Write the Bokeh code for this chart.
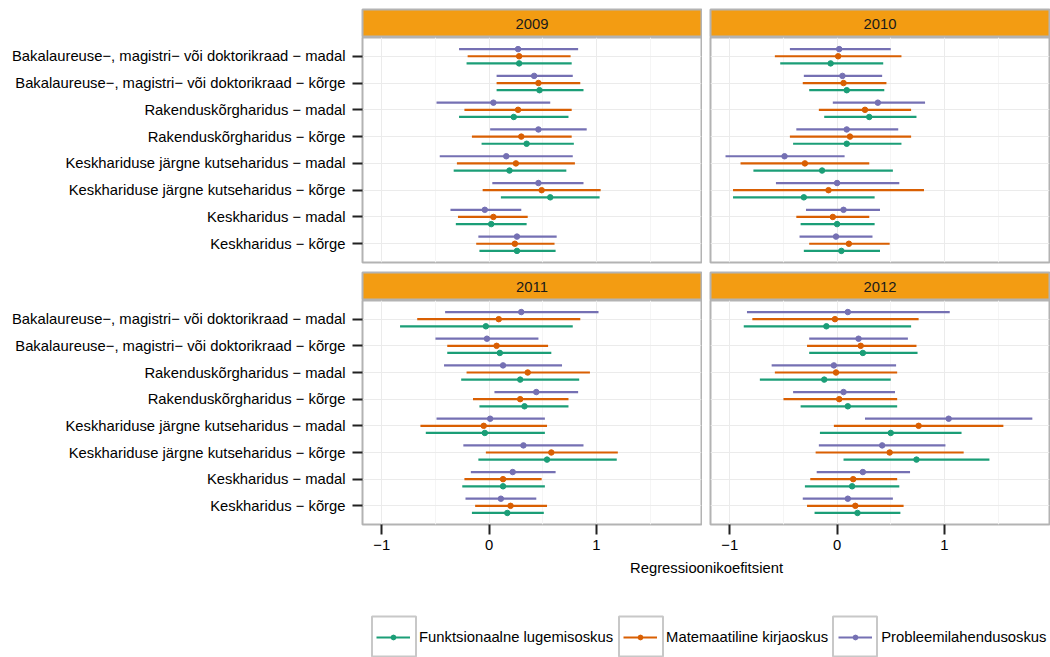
from bokeh.plotting import figure
from bokeh.models import (ColumnDataSource, FactorRange, Range1d, FixedTicker,
                          CategoricalTicker, Label, Legend, LegendItem)
from bokeh.transform import dodge
from bokeh.layouts import column, row
from bokeh.embed import file_html
from bokeh.resources import INLINE
from bokeh.core.validation import silence
from bokeh.core.validation.warnings import MISSING_RENDERERS

silence(MISSING_RENDERERS, True)

M = "\u2212"
# categories, top to bottom as shown
categories = [
    f"Bakalaureuse{M}, magistri{M} või doktorikraad {M} madal",
    f"Bakalaureuse{M}, magistri{M} või doktorikraad {M} kõrge",
    f"Rakenduskõrgharidus {M} madal",
    f"Rakenduskõrgharidus {M} kõrge",
    f"Keskhariduse järgne kutseharidus {M} madal",
    f"Keskhariduse järgne kutseharidus {M} kõrge",
    f"Keskharidus {M} madal",
    f"Keskharidus {M} kõrge",
]
years = ["2009", "2010", "2011", "2012"]
series = ["Funktsionaalne lugemisoskus", "Matemaatiline kirjaoskus", "Probleemilahendusoskus"]
colors = ["#1B9E77", "#D95F02", "#7570B3"]
x_ticks = [-1, 0, 1]
x_tick_labels = [f"{M}1", "0", "1"]
x_title = "Regressioonikoefitsient"

# ---- 2009 ----
fl_2009_est = [0.28, 0.47, 0.23, 0.35, 0.19, 0.57, 0.02, 0.26]
fl_2009_lo = [-0.21, 0.07, -0.28, -0.07, -0.33, 0.11, -0.31, -0.09]
fl_2009_hi = [0.77, 0.88, 0.74, 0.79, 0.72, 1.03, 0.35, 0.62]
mk_2009_est = [0.28, 0.46, 0.27, 0.30, 0.25, 0.49, 0.04, 0.24]
mk_2009_lo = [-0.20, 0.07, -0.23, -0.16, -0.30, -0.06, -0.29, -0.12]
mk_2009_hi = [0.76, 0.85, 0.77, 0.77, 0.80, 1.04, 0.36, 0.61]
pl_2009_est = [0.27, 0.42, 0.04, 0.46, 0.16, 0.46, -0.04, 0.26]
pl_2009_lo = [-0.28, 0.07, -0.49, 0.01, -0.46, 0.03, -0.36, -0.10]
pl_2009_hi = [0.83, 0.78, 0.57, 0.91, 0.78, 0.88, 0.30, 0.63]
# ---- 2010 ----
fl_2010_est = [-0.06, 0.09, 0.30, 0.09, -0.14, -0.31, 0.00, 0.04]
fl_2010_lo = [-0.53, -0.26, -0.12, -0.41, -0.78, -0.97, -0.34, -0.31]
fl_2010_hi = [0.43, 0.44, 0.74, 0.60, 0.52, 0.35, 0.35, 0.40]
mk_2010_est = [0.01, 0.06, 0.26, 0.12, -0.30, -0.08, -0.04, 0.11]
mk_2010_lo = [-0.58, -0.32, -0.17, -0.44, -0.90, -0.97, -0.38, -0.26]
mk_2010_hi = [0.60, 0.46, 0.69, 0.69, 0.30, 0.81, 0.30, 0.49]
pl_2010_est = [0.02, 0.05, 0.38, 0.09, -0.49, 0.00, 0.06, -0.01]
pl_2010_lo = [-0.44, -0.31, -0.04, -0.38, -1.04, -0.57, -0.29, -0.35]
pl_2010_hi = [0.50, 0.42, 0.82, 0.57, 0.07, 0.58, 0.40, 0.33]
# ---- 2011 ----
fl_2011_est = [-0.03, 0.10, 0.29, 0.33, -0.04, 0.54, 0.13, 0.17]
fl_2011_lo = [-0.83, -0.39, -0.26, -0.09, -0.59, -0.10, -0.25, -0.16]
fl_2011_hi = [0.78, 0.58, 0.84, 0.74, 0.52, 1.19, 0.52, 0.51]
mk_2011_est = [0.09, 0.07, 0.36, 0.29, -0.05, 0.58, 0.13, 0.20]
mk_2011_lo = [-0.67, -0.39, -0.21, -0.15, -0.64, -0.03, -0.23, -0.13]
mk_2011_hi = [0.85, 0.55, 0.94, 0.74, 0.54, 1.20, 0.49, 0.54]
pl_2011_est = [0.30, -0.02, 0.13, 0.44, 0.01, 0.32, 0.22, 0.11]
pl_2011_lo = [-0.41, -0.50, -0.42, 0.05, -0.49, -0.24, -0.17, -0.22]
pl_2011_hi = [1.02, 0.46, 0.68, 0.83, 0.52, 0.88, 0.62, 0.44]
# ---- 2012 ----
fl_2012_est = [-0.10, 0.24, -0.12, 0.10, 0.50, 0.74, 0.14, 0.19]
fl_2012_lo = [-0.87, -0.26, -0.72, -0.34, -0.16, 0.06, -0.30, -0.21]
fl_2012_hi = [0.69, 0.75, 0.50, 0.56, 1.16, 1.42, 0.58, 0.59]
mk_2012_est = [-0.02, 0.22, -0.01, 0.02, 0.76, 0.49, 0.15, 0.17]
mk_2012_lo = [-0.79, -0.28, -0.58, -0.50, -0.03, -0.20, -0.25, -0.28]
mk_2012_hi = [0.76, 0.74, 0.56, 0.56, 1.55, 1.18, 0.56, 0.62]
pl_2012_est = [0.10, 0.20, -0.03, 0.06, 1.04, 0.42, 0.24, 0.10]
pl_2012_lo = [-0.84, -0.26, -0.61, -0.41, 0.26, -0.17, -0.19, -0.32]
pl_2012_hi = [1.05, 0.66, 0.55, 0.54, 1.82, 1.01, 0.68, 0.52]

DATA = {
    "2009": [(fl_2009_est, fl_2009_lo, fl_2009_hi), (mk_2009_est, mk_2009_lo, mk_2009_hi), (pl_2009_est, pl_2009_lo, pl_2009_hi)],
    "2010": [(fl_2010_est, fl_2010_lo, fl_2010_hi), (mk_2010_est, mk_2010_lo, mk_2010_hi), (pl_2010_est, pl_2010_lo, pl_2010_hi)],
    "2011": [(fl_2011_est, fl_2011_lo, fl_2011_hi), (mk_2011_est, mk_2011_lo, mk_2011_hi), (pl_2011_est, pl_2011_lo, pl_2011_hi)],
    "2012": [(fl_2012_est, fl_2012_lo, fl_2012_hi), (mk_2012_est, mk_2012_lo, mk_2012_hi), (pl_2012_est, pl_2012_lo, pl_2012_hi)],
}

# ---- style / layout constants ----
FONT = "Liberation Sans"
FS = "14.8px"
BORDER = "#B3B3B3"
STRIP = "#F39C12"
GRID = "#EBEBEB"
MINOR_GRID = "#F5F5F5"
LBL = 362      # space for category labels (left column)
GAP = 8        # gap between panel columns
PW = 339       # panel frame width
RB = 1
DODGE = [-0.267, 0.0, 0.267]
NAN = float("nan")

x_range = Range1d(-1.18, 1.98)
y_range = FactorRange(factors=list(reversed(categories)), range_padding=0.2,
                      range_padding_units="absolute")


def base_fig(left, height, mb_top, mb_bottom, xr, yr, xaxis, yaxis):
    w = (LBL if left else GAP) + PW + RB
    p = figure(width=w, height=height, x_range=xr, y_range=yr,
               x_axis_location="below" if xaxis else None,
               y_axis_location="left" if yaxis else None,
               min_border_left=LBL if left else GAP, min_border_right=RB,
               min_border_top=mb_top, min_border_bottom=mb_bottom,
               toolbar_location=None, output_backend="svg")
    p.background_fill_color = "white"
    p.border_fill_color = "white"
    p.outline_line_color = BORDER
    p.outline_line_width = 2
    return p


def strip(year, left, mb_top):
    s = base_fig(left, mb_top + 28, mb_top, 0, Range1d(0, 1), Range1d(0, 1), False, False)
    s.grid.visible = False
    s.background_fill_color = STRIP
    s.add_layout(Label(x=0.5, y=0.5, text=year, text_align="center", text_baseline="middle",
                       text_font=FONT, text_font_size=FS, text_color="#1A1A1A"))
    return s


def panel(year, left, bottom, height, mb_bottom):
    p = base_fig(left, height, 0, mb_bottom, x_range, y_range, bottom, left)
    p.xgrid.ticker = FixedTicker(ticks=x_ticks, minor_ticks=[-1.5, -0.5, 0.5, 1.5])
    p.xgrid.grid_line_color = GRID
    p.xgrid.grid_line_width = 1
    p.xgrid.minor_grid_line_color = MINOR_GRID
    p.ygrid.ticker = CategoricalTicker()
    p.ygrid.grid_line_color = GRID
    p.ygrid.grid_line_width = 1
    for si, (name, color) in enumerate(zip(series, colors)):
        est, lo, hi = DATA[year][si]
        src = ColumnDataSource(dict(cat=categories, est=est, lo=lo, hi=hi))
        yy = dodge("cat", DODGE[si], range=y_range)
        p.segment(x0="lo", x1="hi", y0=yy, y1=yy, source=src,
                  line_color=color, line_width=2.2)
        p.scatter(x="est", y=yy, source=src, size=5.5,
                  fill_color=color, line_color=color)
    if left:
        ax = p.yaxis[0]
        ax.major_label_text_font = FONT
        ax.major_label_text_font_size = FS
        ax.major_label_text_color = "black"
        ax.major_tick_out = 10
        ax.major_tick_in = 0
        ax.major_tick_line_width = 2
        ax.major_tick_line_color = "#222222"
        ax.axis_line_color = None
        ax.major_label_standoff = 7
    if bottom:
        ax = p.xaxis[0]
        ax.ticker = FixedTicker(ticks=x_ticks)
        ax.major_label_overrides = dict(zip(x_ticks, x_tick_labels))
        ax.major_label_text_font = FONT
        ax.major_label_text_font_size = FS
        ax.major_label_text_color = "black"
        ax.major_tick_out = 10
        ax.major_tick_in = 0
        ax.major_tick_line_width = 2
        ax.major_tick_line_color = "#222222"
        ax.minor_tick_line_color = None
        ax.axis_line_color = None
        ax.major_label_standoff = 5
    return p


s09 = strip(years[0], True, 9)
p09 = panel(years[0], True, False, 233, 8)
s11 = strip(years[2], True, 2)
p11 = panel(years[2], True, True, 258, 34)

s10 = strip(years[1], False, 9)
p10 = panel(years[1], False, False, 233, 8)
s12 = strip(years[3], False, 2)
p12 = panel(years[3], False, True, 258, 34)

# ---- bottom: axis title + legend ----
TOTAL_W = LBL + PW + RB + GAP + PW + RB
BH = 657 - (37 + 233 + 30 + 258)
bf = figure(width=TOTAL_W, height=BH, x_range=Range1d(0, TOTAL_W), y_range=Range1d(BH, 0),
            x_axis_location=None, y_axis_location=None,
            min_border_left=0, min_border_right=0, min_border_top=0, min_border_bottom=0,
            toolbar_location=None, output_backend="svg")
bf.grid.visible = False
bf.outline_line_color = None
bf.background_fill_color = "white"
bf.border_fill_color = "white"
bf.add_layout(Label(x=LBL + (TOTAL_W - LBL) / 2, y=9, text=x_title, text_align="center",
                    text_baseline="middle", text_font=FONT, text_font_size=FS,
                    text_color="black"))

# legend-only renderers (no visible data)
box_r = bf.rect(x=[NAN], y=[NAN], width=1, height=1, fill_color="white",
                line_color="#C8C8C8", line_width=2)
line_rs = [bf.line(x=[NAN], y=[NAN], line_color=c, line_width=2.2) for c in colors]
dot_rs = [bf.scatter(x=[NAN], y=[NAN], size=5, fill_color=c, line_color=c) for c in colors]

LEG_X = 376
GW, GSO, GSP = 34, 9, 10
label_px = [194, 161, 165]

xx = LEG_X
for i in range(3):
    bf.add_layout(Legend(items=[LegendItem(label="", renderers=[box_r])],
                         location=(xx - 10.5, -4), glyph_width=55, glyph_height=50,
                         padding=0, margin=0, label_standoff=0, label_width=0,
                         label_height=0, border_line_color=None,
                         background_fill_alpha=0))
    xx += GW + GSO + label_px[i] + GSP

legB = Legend(items=[LegendItem(label=s, renderers=[lr, dr])
                     for s, lr, dr in zip(series, line_rs, dot_rs)],
              orientation="horizontal", location=(LEG_X, 12.5),
              glyph_width=GW, glyph_height=12, label_standoff=GSO, spacing=GSP,
              padding=0, margin=0, border_line_color=None, background_fill_alpha=0,
              label_text_font=FONT, label_text_font_size=FS, label_text_color="black",
              label_height=12, label_width=0)
bf.add_layout(legB)

layout = column(row(column(s09, p09, s11, p11), column(s10, p10, s12, p12)), bf)

open("out.html", "w").write(file_html(layout, INLINE))
